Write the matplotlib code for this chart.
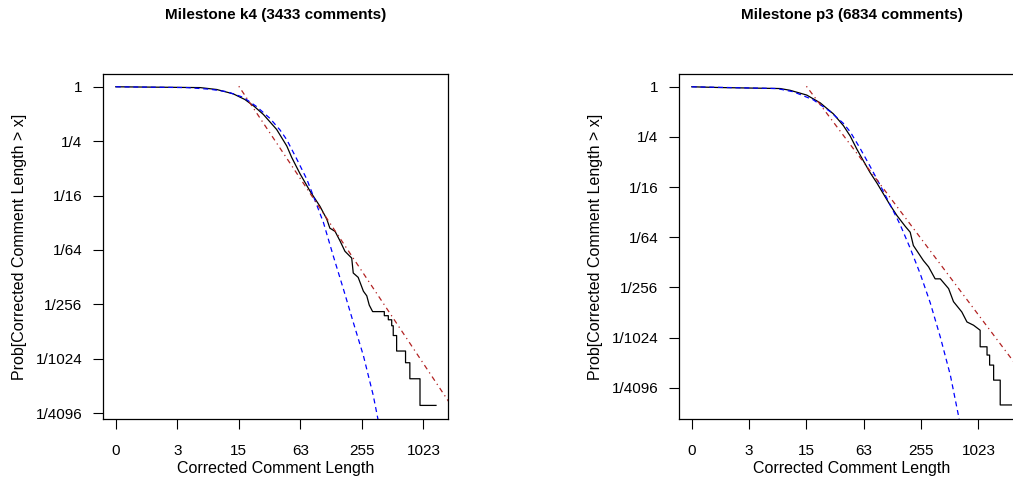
import matplotlib
matplotlib.use("Agg")
import matplotlib.pyplot as plt

plt.rcParams['font.family'] = ['Liberation Sans', 'DejaVu Sans']

# values are read off the picture, in log2 units:
# x = log2(length + 1), y = log2(Prob[length > x])
x_ticks = [0, 2, 4, 6, 8, 10]
x_labels = ['0', '3', '15', '63', '255', '1023']
y_ticks = [0, -2, -4, -6, -8, -10, -12]
y_labels = ['1', '1/4', '1/16', '1/64', '1/256', '1/1024', '1/4096']

# milestone k4
k4_emp_x = [0, 2.74, 3.28, 3.82, 4.20, 4.50, 4.80, 5.23, 5.56, 5.72, 5.99, 6.31, 6.64, 6.86,
            6.96, 7.13, 7.29, 7.45, 7.67, 7.72, 7.88, 8.05, 8.16, 8.24, 8.35, 8.73, 8.73,
            8.86, 8.86, 8.97, 8.97, 9.02, 9.02, 9.13, 9.13, 9.42, 9.42, 9.56, 9.56, 9.89,
            9.89, 10.41]
k4_emp_y = [0, -0.03, -0.10, -0.26, -0.47, -0.72, -1.02, -1.57, -2.18, -2.60, -3.20, -3.83,
            -4.40, -4.87, -5.20, -5.32, -5.67, -6.05, -6.30, -6.85, -7.01, -7.52, -7.69,
            -8.03, -8.27, -8.27, -8.42, -8.42, -8.57, -8.57, -8.79, -8.79, -9.15, -9.15,
            -9.72, -9.72, -10.15, -10.15, -10.74, -10.74, -11.72, -11.72]
k4_lnorm_x = [0, 2.31, 3.06, 3.61, 4.15, 4.58, 5.01, 5.34, 5.56, 5.88, 6.21, 6.42, 6.75,
              7.07, 7.40, 7.72, 8.05, 8.37, 8.51, 8.60]
k4_lnorm_y = [0, -0.03, -0.09, -0.18, -0.39, -0.73, -1.16, -1.59, -1.95, -2.65, -3.40,
              -4.01, -4.99, -6.22, -7.44, -8.66, -9.89, -11.35, -12.15, -12.7]
k4_power_x = [4.0, 11.0]
k4_power_y = [0.02, -11.88]

# milestone p3
p3_emp_x = [0, 0.99, 3.08, 3.43, 4.01, 4.48, 4.94, 5.29, 5.53, 5.76, 5.99, 6.22, 6.46, 6.69,
            6.92, 7.16, 7.45, 7.62, 7.73, 8.08, 8.26, 8.49, 8.67, 8.96, 9.13, 9.42, 9.60,
            9.83, 10.06, 10.06, 10.30, 10.30, 10.39, 10.39, 10.53, 10.53, 10.76, 10.76, 11.15]
p3_emp_y = [0, -0.03, -0.07, -0.14, -0.33, -0.64, -1.08, -1.55, -1.97, -2.49, -2.96, -3.42,
            -3.84, -4.28, -4.72, -5.14, -5.57, -5.80, -6.33, -6.93, -7.18, -7.66, -7.66,
            -8.05, -8.57, -8.98, -9.38, -9.51, -9.71, -10.37, -10.37, -10.70, -10.70,
            -11.10, -11.10, -11.70, -11.70, -12.69, -12.69]
p3_lnorm_x = [0, 2.97, 3.55, 4.24, 4.83, 5.29, 5.53, 5.87, 6.22, 6.57, 6.92, 7.27, 7.62,
              7.97, 8.32, 8.67, 9.02, 9.31, 9.40]
p3_lnorm_y = [0, -0.07, -0.20, -0.52, -0.99, -1.46, -1.80, -2.45, -3.17, -3.92, -4.70,
              -5.50, -6.44, -7.46, -8.62, -9.98, -11.50, -13.15, -13.7]
p3_power_x = [4.0, 11.7]
p3_power_y = [0.02, -11.68]

panels = [
    ('Milestone k4 (3433 comments)', k4_emp_x, k4_emp_y, k4_lnorm_x, k4_lnorm_y,
     k4_power_x, k4_power_y, (-0.415, 10.81), (-12.22, 0.47), 103),
    ('Milestone p3 (6834 comments)', p3_emp_x, p3_emp_y, p3_lnorm_x, p3_lnorm_y,
     p3_power_x, p3_power_y, (-0.445, 11.6), (-13.25, 0.51), 679),
]

W, H = 1013, 479
fig = plt.figure(figsize=(W / 100, H / 100), dpi=100)

for title, ex, ey, lx, ly, px, py, xl, yl, left in panels:
    ax = fig.add_axes([left / W, 1 - 419 / H, 345.3 / W, 345 / H])
    ax.plot(ex, ey, color='black', lw=0.9)
    ax.plot(lx, ly, color='blue', lw=0.9, dashes=(4, 3))
    ax.plot(px, py, color='#b22222', lw=0.9, dashes=(1, 3, 4, 3))
    ax.set_xlim(*xl)
    ax.set_ylim(*yl)
    ax.set_xticks(x_ticks)
    ax.set_xticklabels(x_labels)
    ax.set_yticks(y_ticks)
    ax.set_yticklabels(y_labels)
    ax.tick_params(direction='out', length=7, width=0.8, labelsize=11, pad=8)
    ax.tick_params(axis='x', pad=11)
    for s in ax.spines.values():
        s.set_linewidth(0.9)
    ax.set_xlabel('Corrected Comment Length', fontsize=11.5, labelpad=2.5)
    ax.set_ylabel('Prob[Corrected Comment Length > x]', fontsize=11.5, labelpad=6)
    ax.set_title(title, fontsize=11, fontweight='bold', pad=39.5)

fig.savefig('out.png', dpi=100)
